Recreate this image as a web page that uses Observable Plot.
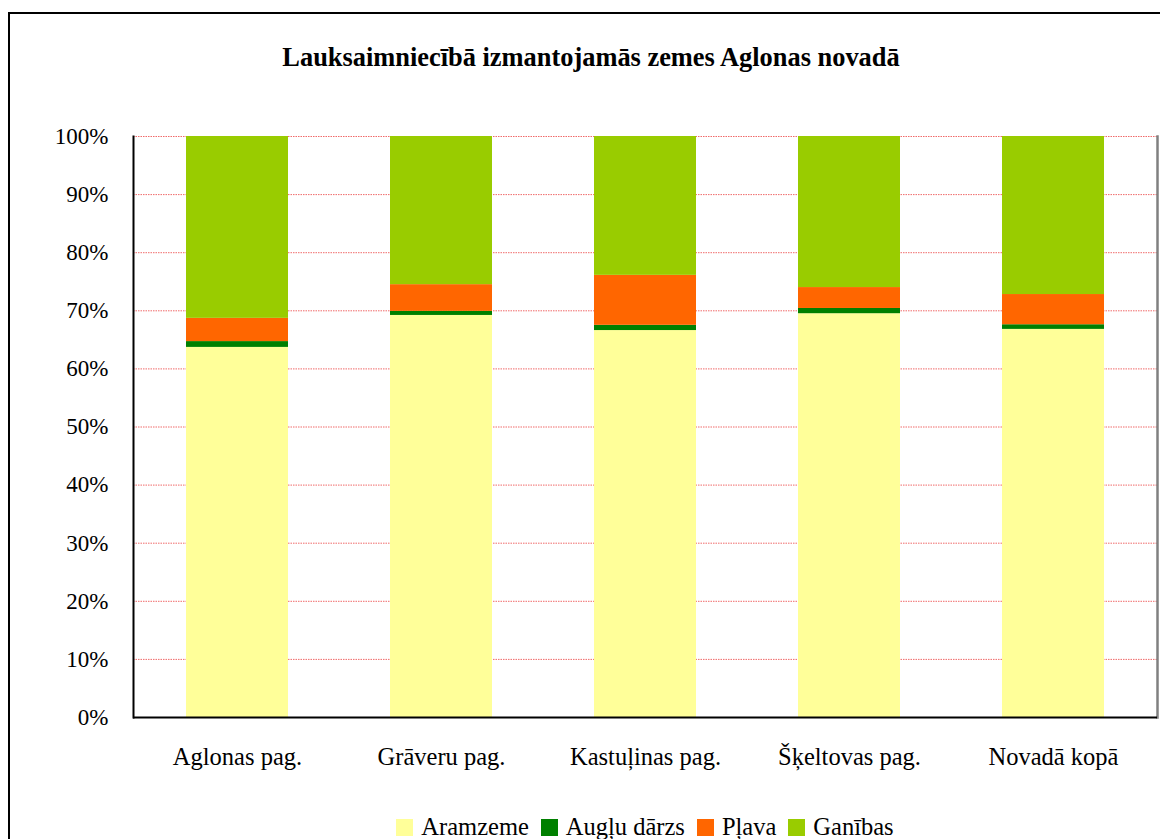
<!DOCTYPE html>
<html>
<head>
<meta charset="utf-8">
<script src="https://cdn.jsdelivr.net/npm/d3@7"></script>
<script src="https://cdn.jsdelivr.net/npm/@observablehq/plot@0.6"></script>
<style>
  html, body { margin: 0; padding: 0; background: #fff; overflow: hidden; }
  #wrap { position: relative; width: 1160px; height: 839px; font-family: 'Liberation Serif', 'Times New Roman', serif; color: #000; }
  #outer { position: absolute; left: 8px; top: 12px; width: 1200px; height: 900px; border: 2px solid #000; box-sizing: border-box; pointer-events: none; }
  #title { position: relative; height: 100px; box-sizing: border-box; padding-top: 44px; width: 1182px; text-align: center; font-family: 'Liberation Serif', serif; font-weight: bold; font-size: 26.4px; line-height: 26px; }
  #chart svg { display: block; }
  #legend { position: relative; width: 1290px; height: 49px; box-sizing: border-box; padding-top: 25px; display: flex; justify-content: center; align-items: center; font-family: 'Liberation Serif', serif; font-size: 24.5px; line-height: 22px; }
  .item { display: flex; align-items: center; margin: 0 6px; }
  .sw { width: 17px; height: 17px; margin-right: 8px; }
</style>
</head>
<body>
<div id="wrap">
  <div id="outer"></div>
  <div id="title"></div>
  <div id="chart"></div>
  <div id="legend"></div>
</div>
<script>
const titleText = "Lauksaimniecībā izmantojamās zemes Aglonas novadā";
const categories = ["Aglonas pag.", "Grāveru pag.", "Kastuļinas pag.", "Šķeltovas pag.", "Novadā kopā"];
const seriesNames = ["Aramzeme", "Augļu dārzs", "Pļava", "Ganības"];
const seriesColors = ["#FFFF99", "#008000", "#FF6600", "#99CC00"];
const aramzeme   = [63.7, 69.2, 66.6, 69.5, 66.8];
const augluDarzs = [1.0, 0.7, 0.9, 0.9, 0.8];
const plava      = [4.0, 4.6, 8.6, 3.6, 5.2];
const ganibas    = [31.3, 25.5, 23.9, 26.0, 27.2];
const yTicks = [0, 10, 20, 30, 40, 50, 60, 70, 80, 90, 100];

const seriesValues = [aramzeme, augluDarzs, plava, ganibas];
const rows = [];
categories.forEach((c, i) => {
  seriesNames.forEach((s, j) => rows.push({cat: c, series: s, value: seriesValues[j][i]}));
});

document.getElementById("title").textContent = titleText;

const chart = Plot.plot({
  width: 1160,
  height: 690,
  marginTop: 36,
  marginBottom: 73,
  marginLeft: 133,
  marginRight: 3,
  style: {fontFamily: "'Liberation Serif', 'Times New Roman', serif", fontSize: "23px", color: "#000", background: "#fff", overflow: "visible"},
  x: {domain: categories, paddingInner: 0.5, paddingOuter: 0.25, label: null},
  y: {domain: [0, 100], label: null},
  color: {domain: seriesNames, range: seriesColors},
  marks: [
    Plot.ruleY(yTicks.slice(1), {stroke: "#f06a6a", strokeWidth: 1, strokeDasharray: "1.5,1"}),
    Plot.barY(rows, {x: "cat", y: "value", fill: "series", order: seriesNames}),
    Plot.frame({anchor: "right", stroke: "#808080", strokeWidth: 2.5}),
    Plot.frame({anchor: "left", stroke: "#000", strokeWidth: 2}),
    Plot.ruleY([0], {stroke: "#000", strokeWidth: 2}),
    Plot.axisY({ticks: yTicks, tickSize: 0, tickPadding: 25, tickFormat: d => d + "%", label: null, fontSize: 23}),
    Plot.axisX({tickSize: 0, tickPadding: 30, label: null, fontSize: 24.5})
  ]
});
document.getElementById("chart").appendChild(chart);

const legend = document.getElementById("legend");
seriesNames.forEach((s, j) => {
  const item = document.createElement("div");
  item.className = "item";
  const sw = document.createElement("div");
  sw.className = "sw";
  sw.style.background = seriesColors[j];
  const t = document.createElement("span");
  t.textContent = s;
  item.appendChild(sw);
  item.appendChild(t);
  legend.appendChild(item);
});
</script>
</body>
</html>
